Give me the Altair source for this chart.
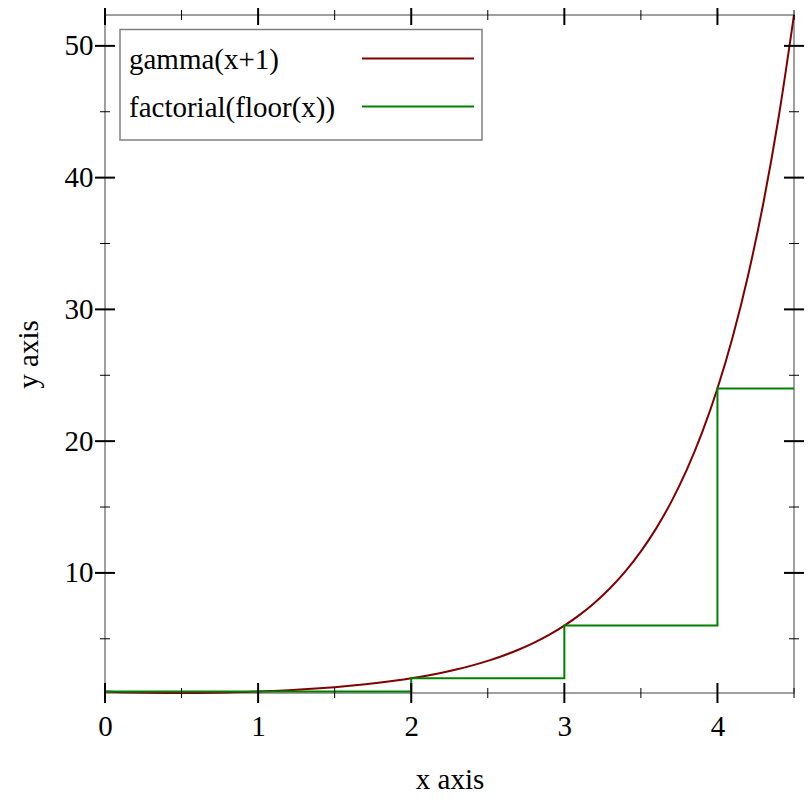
import altair as alt
import pandas as pd

# ---- data ----
gamma_x = [0.0, 0.1, 0.2, 0.3, 0.4, 0.5, 0.6, 0.7, 0.8, 0.9,
           1.0, 1.1, 1.2, 1.3, 1.4, 1.5, 1.6, 1.7, 1.8, 1.9,
           2.0, 2.1, 2.2, 2.3, 2.4, 2.5, 2.6, 2.7, 2.8, 2.9,
           3.0, 3.1, 3.2, 3.3, 3.4, 3.5, 3.6, 3.7, 3.8, 3.9,
           4.0, 4.1, 4.2, 4.3, 4.4, 4.5]
gamma_y = [1.0, 0.95135, 0.91817, 0.89747, 0.88726, 0.88623, 0.89352, 0.90864, 0.93138, 0.96177,
           1.0, 1.04649, 1.10180, 1.16671, 1.24217, 1.32934, 1.42963, 1.54469, 1.67649, 1.82736,
           2.0, 2.19763, 2.42396, 2.68344, 2.98121, 3.32335, 3.71704, 4.17066, 4.69417, 5.29934,
           6.0, 6.81265, 7.75667, 8.85535, 10.13611, 11.63173, 13.38134, 15.43144, 17.83785, 20.66743,
           24.0, 27.93187, 32.57801, 38.07801, 44.59888, 52.34278]
step_x = [0, 1, 2, 3, 4, 4.5]
step_y = [1, 1, 2, 6, 24, 24]
series_names = ["gamma(x+1)", "factorial(floor(x))"]
series_colors = ["#800000", "#008000"]
x_major = [0, 1, 2, 3, 4]
x_minor = [0.5, 1.5, 2.5, 3.5, 4.5]
y_major = [10, 20, 30, 40, 50]
y_minor = [5, 15, 25, 35, 45]
x_domain = [0, 4.5]
y_domain = [0.8856, 52.3428]

W, H = 689, 678
FONT = "Liberation Serif"
FS = 29

xs = alt.Scale(domain=x_domain, nice=False, zero=False)
ys = alt.Scale(domain=y_domain, nice=False, zero=False)

gamma_df = pd.DataFrame({"x": gamma_x, "y": gamma_y})
step_df = pd.DataFrame({"x": step_x, "y": step_y})

x_axis = alt.Axis(values=x_major, ticks=False, tickSize=0, domain=False, grid=False,
                  labelFlush=False,
                  labelFont=FONT, labelFontSize=FS, labelColor="black", labelPadding=19,
                  title="x axis", titleFont=FONT, titleFontSize=FS, titleFontWeight="normal",
                  titleColor="black", titlePadding=24)
y_axis = alt.Axis(values=y_major, ticks=False, tickSize=0, domain=False, grid=False,
                  labelFlush=False,
                  labelFont=FONT, labelFontSize=FS, labelColor="black", labelPadding=12,
                  title="y axis", titleFont=FONT, titleFontSize=FS, titleFontWeight="normal",
                  titleColor="black", titlePadding=21)

X = alt.X("x:Q", scale=xs, axis=x_axis)
Y = alt.Y("y:Q", scale=ys, axis=y_axis)

gamma_line = alt.Chart(gamma_df).mark_line(color=series_colors[0], strokeWidth=2,
                                           interpolate="monotone").encode(x=X, y=Y)
step_line = alt.Chart(step_df).mark_line(color=series_colors[1], strokeWidth=2,
                                         interpolate="step-after").encode(x=X, y=Y)

xmaj_df = pd.DataFrame({"x": x_major})
xmin_df = pd.DataFrame({"x": x_minor})
ymaj_df = pd.DataFrame({"y": y_major})
ymin_df = pd.DataFrame({"y": y_minor})


def xticks(df, half, y0, width):
    return alt.Chart(df).mark_rule(color="black", strokeWidth=width).encode(
        x=X, y=alt.value(y0 - half), y2=alt.value(y0 + half))


def yticks(df, half, x0, width):
    return alt.Chart(df).mark_rule(color="black", strokeWidth=width).encode(
        y=Y, x=alt.value(x0 - half), x2=alt.value(x0 + half))


ticks = [
    xticks(xmaj_df, 10, H, 2), xticks(xmaj_df, 10, 0, 2),
    xticks(xmin_df, 5, H, 1), xticks(xmin_df, 5, 0, 1),
    yticks(ymaj_df, 10, 0, 2), yticks(ymaj_df, 10, W, 2),
    yticks(ymin_df, 5, 0, 1), yticks(ymin_df, 5, W, 1),
]

one = pd.DataFrame({"a": [0]})
legend_box = alt.Chart(one).mark_rect(fill="white", stroke="#808080", strokeWidth=1.5).encode(
    x=alt.value(15), x2=alt.value(377), y=alt.value(14.5), y2=alt.value(125))
legend_items = []
for i, (name, col) in enumerate(zip(series_names, series_colors)):
    base_y = 53.5 + i * 48
    legend_items.append(alt.Chart(pd.DataFrame({"t": [name]})).mark_text(
        font=FONT, fontSize=FS, align="left", baseline="alphabetic", color="black").encode(
        text="t:N", x=alt.value(24), y=alt.value(base_y)))
    legend_items.append(alt.Chart(one).mark_rule(color=col, strokeWidth=2).encode(
        x=alt.value(257), x2=alt.value(369), y=alt.value(base_y - 10), y2=alt.value(base_y - 10)))

chart = alt.layer(gamma_line, step_line, *ticks, legend_box, *legend_items).properties(
    width=W, height=H,
    autosize=alt.AutoSizeParams(type="none"),
    padding={"left": 97, "top": 7, "right": 812 - 16 - 97 - W, "bottom": 812 - 16 - 7 - H},
).configure_view(stroke="#808080", strokeWidth=1.5)

chart.save("out.html", embed_options={"renderer": "svg", "actions": False})
